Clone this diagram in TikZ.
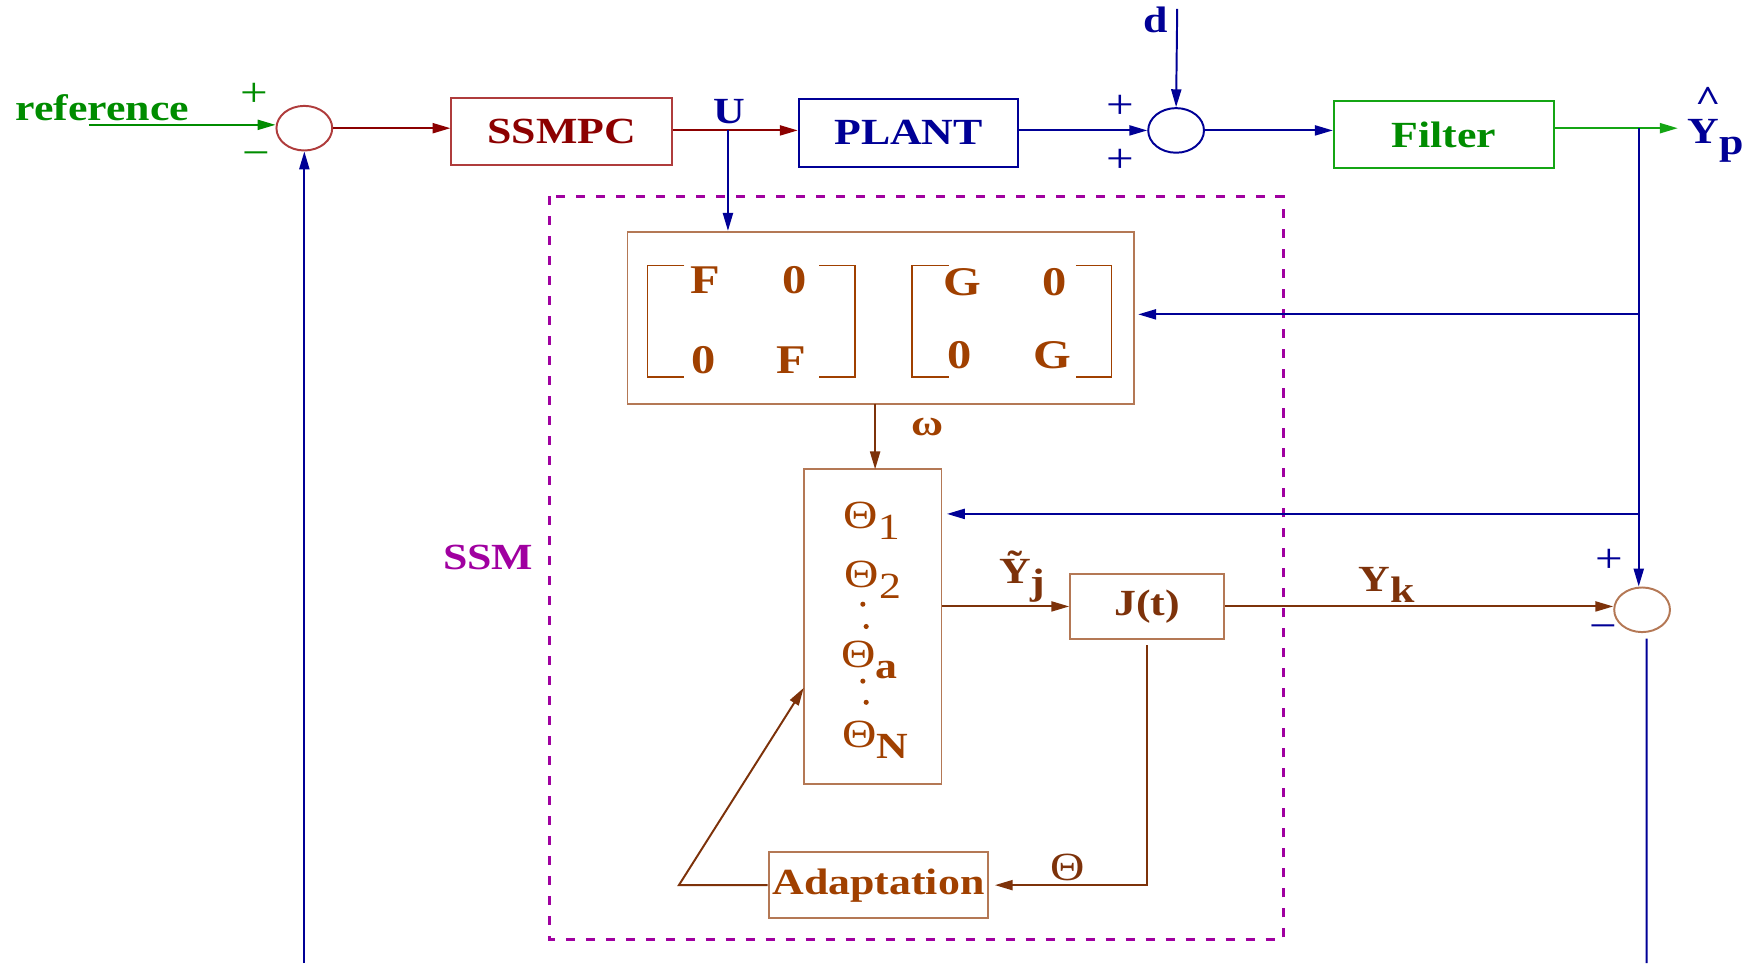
\documentclass[tikz,border=0pt]{standalone}
\usepackage{fontspec}
\setmainfont[FakeStretch=1.19]{Liberation Serif}
\usetikzlibrary{arrows.meta,shapes.geometric}
\definecolor{verde}{RGB}{0,140,0}
\definecolor{verdel}{RGB}{20,165,20}
\definecolor{rojo}{RGB}{140,0,0}
\definecolor{rojol}{RGB}{175,60,60}
\definecolor{azul}{RGB}{0,0,150}
\definecolor{cafe}{RGB}{160,64,0}
\definecolor{cafeo}{RGB}{125,50,10}
\definecolor{cafel}{RGB}{180,120,85}
\definecolor{morado}{RGB}{160,0,160}
\newcommand{\etqfont}{\bfseries\fontsize{9.4}{11}\selectfont}
\newcommand{\dn}[1]{\raisebox{-0.3em}{#1}}
\newcommand{\Th}{{\mdseries\fontsize{10.2}{11}\selectfont Θ}}

\begin{document}
\begin{tikzpicture}[x=0.01cm,y=-0.01cm,line width=0.5pt,>={Triangle[length=1.6mm,width=0.9mm]},
  bloque/.style={draw,rectangle,inner sep=0pt,font=\etqfont},
  suma/.style={draw,ellipse,minimum width=0.5cm,minimum height=0.4cm,inner sep=0pt},
  etq/.style={inner sep=0pt,font=\etqfont},
  signo/.style={inner sep=0pt,font=\fontsize{10.5}{10}\selectfont}]
  \useasboundingbox (0,0) rectangle (1568,864);
  % lazo principal
  \node[suma,rojol] (sum1) at (273,115) {};
  \node[bloque,rojol,text=rojo,minimum width=1.98cm,minimum height=0.6cm] (ssmpc) at (504,118) {SSMPC};
  \node[bloque,azul,minimum width=1.97cm,minimum height=0.61cm] (plant) at (815,119) {PLANT};
  \node[suma,azul] (sum2) at (1055,117) {};
  \node[bloque,verdel,text=verde,minimum width=1.97cm,minimum height=0.6cm] (filt) at (1295,121) {Filter};
  \node[etq,verde,anchor=base west] (ref) at (13,108) {reference};
  \coordinate (refin) at (80,112);
  \coordinate (ubr) at (653,117);
  \coordinate (dtop) at (1056,8);
  \coordinate (yout) at (1505,115);
  \coordinate (bx) at (1470,115);
  \coordinate (fb1) at (273,864);
  \coordinate (fb3) at (1477,864);
  \draw[->,verde] (refin) -- (refin -| sum1.west);
  \draw[->,rojo] (sum1.east) -- (sum1.east -| ssmpc.west);
  \draw[->,rojo] (ssmpc.east |- ubr) -- (ubr -| plant.west);
  \draw[->,azul] (plant.east |- sum2) -- (sum2.west);
  \draw[->,azul] (dtop) -- (sum2.north);
  \draw[->,azul] (sum2.east) -- (sum2.east -| filt.west);
  \draw[->,verdel] (filt.east |- yout) -- (yout);
  \draw[->,azul] (fb1) -- (sum1.south);
  \node[signo,verde] at (228,85) {+};
  \node[signo,verde] at (230,143) {−};
  \node[etq,azul] at (654,100) {U};
  \node[etq,azul] at (1037,18) {d};
  \node[signo,azul] at (1005,96) {+};
  \node[signo,azul] at (1005,144) {+};
  \node[etq,azul] at (1539,112) {\makebox[0pt][l]{\raisebox{0.85em}{\hspace{0.2em}\^{}}}Y\dn{p}};
  % bloque SSM
  \draw[morado,line width=0.7pt,dash pattern=on 2.3pt off 2.8pt] (493,176) rectangle (1151,843);
  \node[etq,morado] at (438,500) {SSM};
  \node[bloque,cafel,minimum width=4.54cm,minimum height=1.54cm] (mat) at (790,285) {};
  \begin{scope}[cafe,font=\bfseries\fontsize{10.4}{12}\selectfont]
    \node at (633,251) {F}; \node at (713,251) {0};
    \node at (631,323) {0}; \node at (710,323) {F};
    \node at (863,253) {G}; \node at (946,253) {0};
    \node at (861,319) {0}; \node at (944,319) {G};
  \end{scope}
  \draw[cafe,line width=0.4pt] (614,238) -- (581,238) -- (581,338) -- (614,338);
  \draw[cafe,line width=0.4pt] (735,238) -- (767,238) -- (767,338) -- (735,338);
  \draw[cafe,line width=0.4pt] (851,238) -- (818,238) -- (818,338) -- (851,338);
  \draw[cafe,line width=0.4pt] (965,238) -- (997,238) -- (997,338) -- (965,338);
  \node[bloque,cafel,minimum width=1.23cm,minimum height=2.83cm] (theta) at (783,562) {};
  \begin{scope}[cafe,etq]
    \node at (782,467) {\Th\dn{\mdseries 1}};
    \node at (783,520) {\Th\dn{\mdseries 2}};
    \node at (780,592) {\Th\dn{a}};
    \node at (785,664) {\Th\dn{N}};
  \end{scope}
  \foreach \p in {(774,542),(777,562),(774,611),(777,630)}
    \fill[cafe] \p circle (2.3);
  \node[bloque,cafel,text=cafeo,minimum width=1.38cm,minimum height=0.58cm] (jt) at (1029,544) {J(t)};
  \node[bloque,cafel,text=cafe,minimum width=1.97cm,minimum height=0.59cm] (adapt) at (788,794) {Adaptation};
  \node[suma,cafel] (sum3) at (1473,547) {};
  \coordinate (b1) at (1470,282);
  \coordinate (b2) at (1470,461);
  \coordinate (ak) at (609,794);
  \coordinate (tin) at (721,617);
  \draw[->,azul] (ubr) -- (ubr |- mat.north);
  \draw[->,azul] (bx) -- (bx |- sum3.north);
  \draw[->,azul] (b1) -- ([xshift=0.3mm]b1 -| mat.east);
  \draw[->,azul] (b2) -- ([xshift=0.4mm]b2 -| theta.east);
  \draw[->,cafeo] (785,362) -- (785,421);
  \draw[->,cafeo] (theta.east |- jt.west) -- (jt.west);
  \draw[->,cafeo] (jt.east) -- (jt.east -| sum3.west);
  \draw[->,cafeo] ([yshift=-0.5mm]jt.south) |- ([xshift=0.5mm]adapt.east);
  \draw[->,cafeo] (adapt.west) -- (ak) -- (tin);
  \draw[azul] ([xshift=0.4mm,yshift=-0.5mm]sum3.south) -- (fb3);
  \node[etq,cafe] at (832,383) {ω};
  \node[etq,cafeo] at (917,517) {\~{Y}\dn{j}};
  \node[etq,cafeo] at (1244,525) {Y\dn{k}};
  \node[etq,cafeo] at (958,778) {\Th};
  \node[signo,azul] at (1444,503) {+};
  \node[signo,azul] at (1438,567) {−};
\end{tikzpicture}
\end{document}
